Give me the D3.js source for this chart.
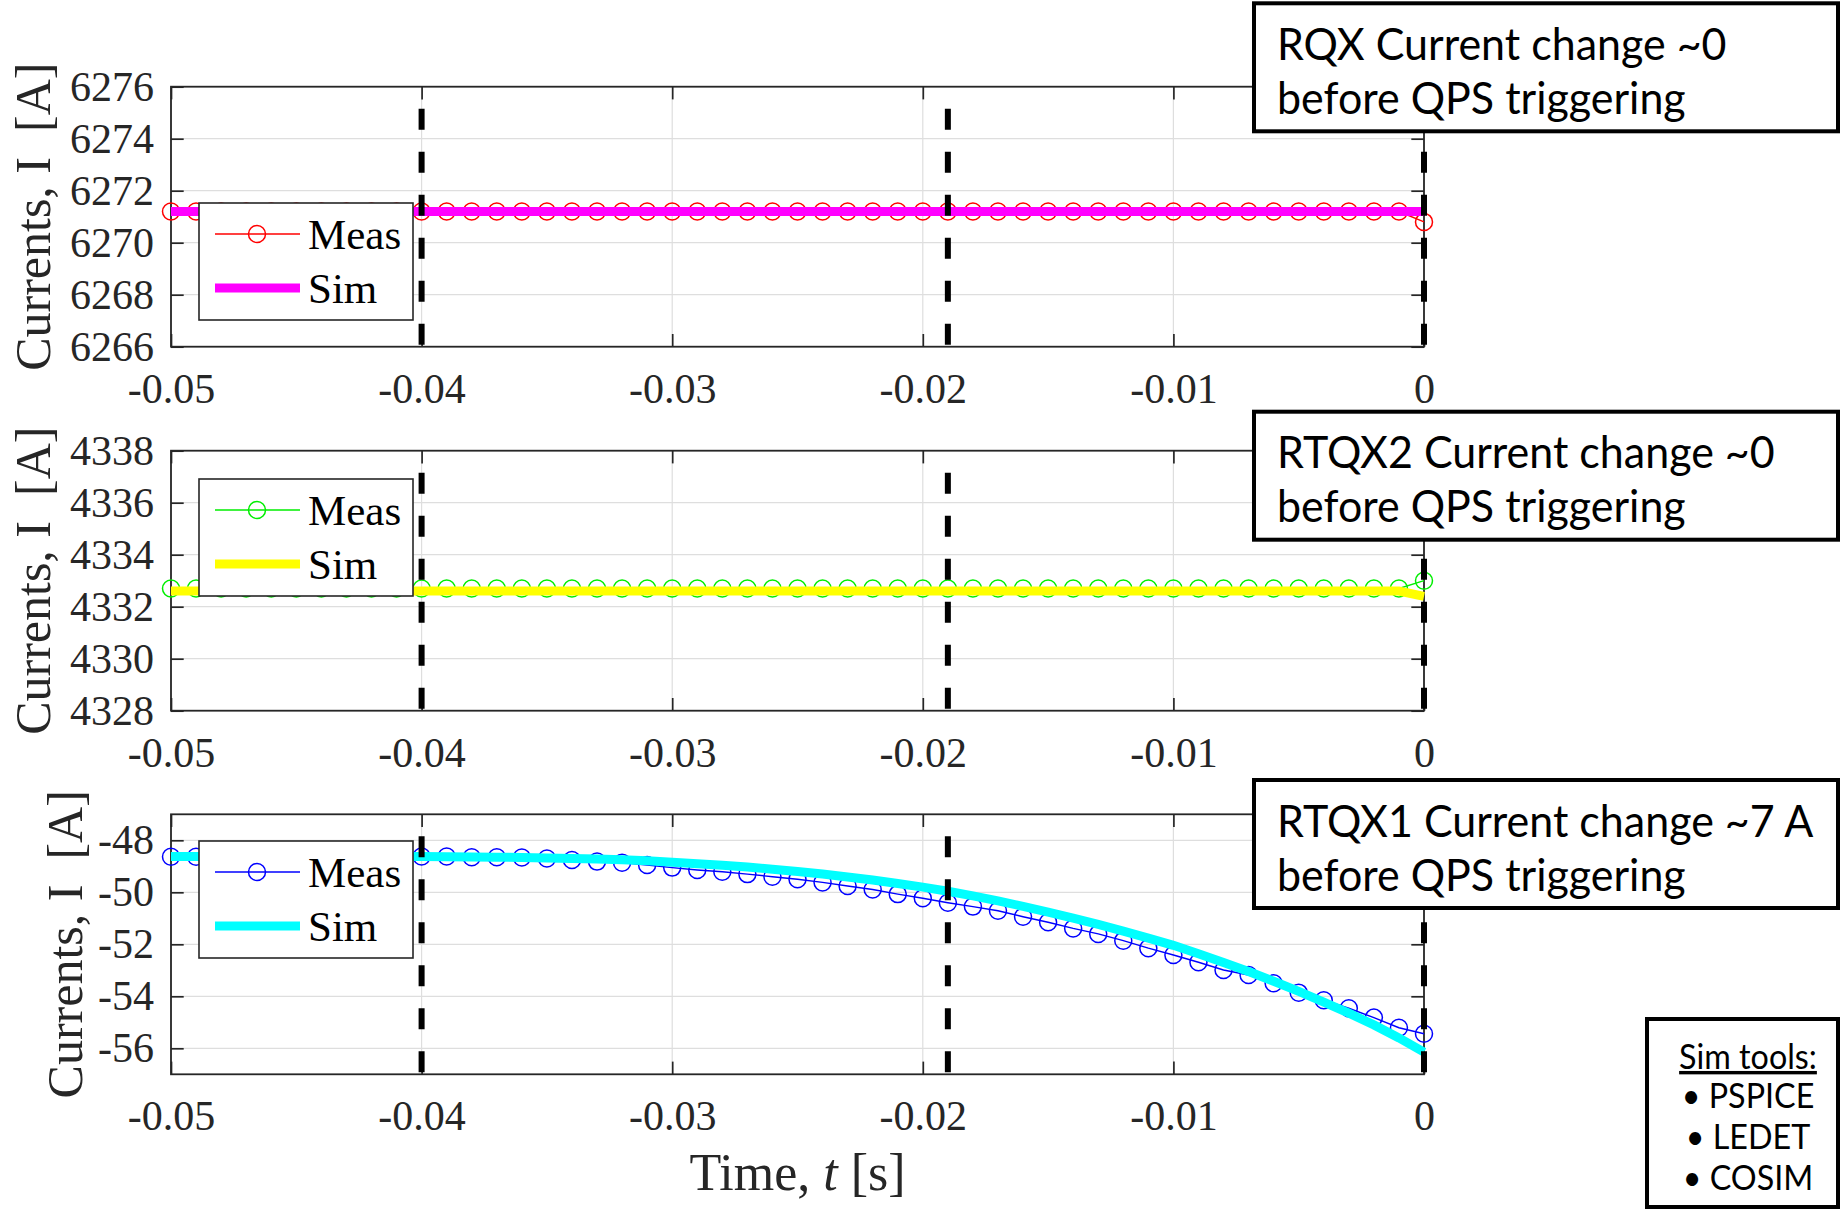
<!DOCTYPE html>
<html>
<head>
<meta charset="utf-8">
<script src="https://cdn.jsdelivr.net/npm/d3@7"></script>
<style>
body{margin:0;background:#fff;}
svg{display:block;}
</style>
</head>
<body>
<svg></svg>
<script>
const w = 1841;
const h = 1209;

// time axis, seconds (1 ms sampling)
const times = [-0.050,-0.049,-0.048,-0.047,-0.046,-0.045,-0.044,-0.043,-0.042,-0.041,
  -0.040,-0.039,-0.038,-0.037,-0.036,-0.035,-0.034,-0.033,-0.032,-0.031,
  -0.030,-0.029,-0.028,-0.027,-0.026,-0.025,-0.024,-0.023,-0.022,-0.021,
  -0.020,-0.019,-0.018,-0.017,-0.016,-0.015,-0.014,-0.013,-0.012,-0.011,
  -0.010,-0.009,-0.008,-0.007,-0.006,-0.005,-0.004,-0.003,-0.002,-0.001,0];

const rqxMeas = [6271.2,6271.2,6271.2,6271.2,6271.2,6271.2,6271.2,6271.2,6271.2,6271.2,
  6271.2,6271.2,6271.2,6271.2,6271.2,6271.2,6271.2,6271.2,6271.2,6271.2,
  6271.2,6271.2,6271.2,6271.2,6271.2,6271.2,6271.2,6271.2,6271.2,6271.2,
  6271.2,6271.2,6271.2,6271.2,6271.2,6271.2,6271.2,6271.2,6271.2,6271.2,
  6271.2,6271.2,6271.2,6271.2,6271.2,6271.2,6271.2,6271.2,6271.2,6271.2,6270.8];
const rqxSim = [6271.2,6271.2,6271.2,6271.2,6271.2,6271.2,6271.2,6271.2,6271.2,6271.2,
  6271.2,6271.2,6271.2,6271.2,6271.2,6271.2,6271.2,6271.2,6271.2,6271.2,
  6271.2,6271.2,6271.2,6271.2,6271.2,6271.2,6271.2,6271.2,6271.2,6271.2,
  6271.2,6271.2,6271.2,6271.2,6271.2,6271.2,6271.2,6271.2,6271.2,6271.2,
  6271.2,6271.2,6271.2,6271.2,6271.2,6271.2,6271.2,6271.2,6271.2,6271.2,6271.2];

const rtqx2Meas = [4332.7,4332.7,4332.7,4332.7,4332.7,4332.7,4332.7,4332.7,4332.7,4332.7,
  4332.7,4332.7,4332.7,4332.7,4332.7,4332.7,4332.7,4332.7,4332.7,4332.7,
  4332.7,4332.7,4332.7,4332.7,4332.7,4332.7,4332.7,4332.7,4332.7,4332.7,
  4332.7,4332.7,4332.7,4332.7,4332.7,4332.7,4332.7,4332.7,4332.7,4332.7,
  4332.7,4332.7,4332.7,4332.7,4332.7,4332.7,4332.7,4332.7,4332.7,4332.7,4333.0];
const rtqx2Sim = [4332.6,4332.6,4332.6,4332.6,4332.6,4332.6,4332.6,4332.6,4332.6,4332.6,
  4332.6,4332.6,4332.6,4332.6,4332.6,4332.6,4332.6,4332.6,4332.6,4332.6,
  4332.6,4332.6,4332.6,4332.6,4332.6,4332.6,4332.6,4332.6,4332.6,4332.6,
  4332.6,4332.6,4332.6,4332.6,4332.6,4332.6,4332.6,4332.6,4332.6,4332.6,
  4332.6,4332.6,4332.6,4332.6,4332.6,4332.6,4332.6,4332.6,4332.6,4332.6,4332.4];

const rtqx1Meas = [-48.63,-48.63,-48.63,-48.63,-48.63,-48.63,-48.63,-48.63,-48.63,-48.62,
  -48.62,-48.62,-48.65,-48.65,-48.66,-48.70,-48.76,-48.82,-48.86,-48.95,
  -49.05,-49.14,-49.21,-49.30,-49.40,-49.50,-49.62,-49.76,-49.89,-50.07,
  -50.23,-50.40,-50.55,-50.71,-50.94,-51.15,-51.39,-51.60,-51.86,-52.15,
  -52.41,-52.69,-52.99,-53.18,-53.50,-53.86,-54.15,-54.46,-54.82,-55.21,-55.44];
const rtqx1Sim = [-48.62,-48.62,-48.62,-48.62,-48.62,-48.62,-48.62,-48.62,-48.62,-48.62,
  -48.62,-48.63,-48.64,-48.65,-48.66,-48.68,-48.70,-48.72,-48.75,-48.79,
  -48.84,-48.90,-48.96,-49.03,-49.11,-49.20,-49.30,-49.41,-49.53,-49.66,
  -49.80,-49.96,-50.14,-50.33,-50.54,-50.76,-50.99,-51.23,-51.49,-51.76,
  -52.04,-52.36,-52.70,-53.05,-53.42,-53.81,-54.22,-54.65,-55.10,-55.60,-56.15];

const xTicks = [-0.05,-0.04,-0.03,-0.02,-0.01,0];
const rqxTicks = [6266,6268,6270,6272,6274,6276];
const rtqx2Ticks = [4328,4330,4332,4334,4336,4338];
const rtqx1Ticks = [-56,-54,-52,-50,-48];
const markerTimes = [-0.04,-0.019,0];

const notes = [
  ["RQX Current change ~0","before QPS triggering"],
  ["RTQX2 Current change ~0","before QPS triggering"],
  ["RTQX1 Current change ~7 A","before QPS triggering"]
];
const simTools = ["PSPICE","LEDET","COSIM"];

const serif = "'Liberation Serif','Times New Roman',serif";
const sans = "Lato,'Open Sans',sans-serif";
const axCol = "#262626";
const panelH = 260;
const tickLen = 12.7;

const svg = d3.select("svg").attr("width",w).attr("height",h);
const x = d3.scaleLinear().domain([-0.05,0]).range([171,1424]);
const [x0,x1] = x.range();

const panels = [
  {top:86.7, dom:[6266,6276], ticks:rqxTicks, meas:rqxMeas, sim:rqxSim, mc:"#ff0000", sc:"#ff00ff", legY:203, titleX:50},
  {top:450.7, dom:[4328,4338], ticks:rtqx2Ticks, meas:rtqx2Meas, sim:rtqx2Sim, mc:"#00ee00", sc:"#ffff00", legY:479, titleX:50},
  {top:814.3, dom:[-57,-47], ticks:rtqx1Ticks, meas:rtqx1Meas, sim:rtqx1Sim, mc:"#0000ff", sc:"#00ffff", legY:841, titleX:82}
];

const fmtX = d => d === 0 ? "0" : d.toFixed(2);

panels.forEach(p=>{
  const y = d3.scaleLinear().domain(p.dom).range([p.top+panelH,p.top]);
  const bottom = p.top+panelH;
  const g = svg.append("g");

  // grid
  g.selectAll(".hg").data(p.ticks).enter().append("line")
    .attr("x1",x0).attr("x2",x1).attr("y1",d=>y(d)).attr("y2",d=>y(d))
    .attr("stroke","#dedede").attr("stroke-width",1.2);
  g.selectAll(".vg").data(xTicks).enter().append("line")
    .attr("x1",d=>x(d)).attr("x2",d=>x(d)).attr("y1",p.top).attr("y2",bottom)
    .attr("stroke","#dedede").attr("stroke-width",1.2);

  // axes (ticks inward, mirrored)
  const left = d3.axisLeft(y).tickValues(p.ticks).tickSizeInner(-tickLen).tickSizeOuter(0).tickPadding(17).tickFormat(d=>String(d));
  const right = d3.axisRight(y).tickValues(p.ticks).tickSizeInner(-tickLen).tickSizeOuter(0).tickFormat("");
  const bot = d3.axisBottom(x).tickValues(xTicks).tickSizeInner(-tickLen).tickSizeOuter(0).tickPadding(26).tickFormat(fmtX);
  const topAx = d3.axisTop(x).tickValues(xTicks).tickSizeInner(-tickLen).tickSizeOuter(0).tickFormat("");
  [[left,`translate(${x0},0)`],[right,`translate(${x1},0)`],[bot,`translate(0,${bottom})`],[topAx,`translate(0,${p.top})`]]
    .forEach(([ax,tr])=>{
      const a = g.append("g").attr("transform",tr).call(ax);
      a.select(".domain").remove();
      a.selectAll("line").attr("stroke",axCol).attr("stroke-width",1.7);
      a.selectAll("text").attr("font-family",serif).attr("font-size",42).attr("fill",axCol);
    });

  g.append("rect").attr("x",x0).attr("y",p.top).attr("width",x1-x0).attr("height",panelH)
    .attr("fill","none").attr("stroke",axCol).attr("stroke-width",1.8);

  // measured
  const pts = times.map((t,i)=>({t:t,v:p.meas[i]}));
  const line = d3.line().x(d=>x(d.t)).y(d=>y(d.v));
  g.append("path").datum(pts).attr("d",line).attr("fill","none").attr("stroke",p.mc).attr("stroke-width",1.4);
  g.selectAll(".mk").data(pts).enter().append("circle")
    .attr("cx",d=>x(d.t)).attr("cy",d=>y(d.v)).attr("r",8.5)
    .attr("fill","none").attr("stroke",p.mc).attr("stroke-width",1.5);

  // simulated
  const simPts = times.map((t,i)=>({t:t,v:p.sim[i]}));
  g.append("path").datum(simPts).attr("d",line).attr("fill","none").attr("stroke",p.sc).attr("stroke-width",9);

  // dashed time markers
  g.selectAll(".dash").data(markerTimes).enter().append("line")
    .attr("x1",d=>x(d)).attr("x2",d=>x(d)).attr("y1",p.top).attr("y2",bottom)
    .attr("stroke","#000").attr("stroke-width",6)
    .attr("stroke-dasharray","21,22").attr("stroke-dashoffset",21);

  // legend
  const lg = g.append("g").attr("transform",`translate(199,${p.legY})`);
  lg.append("rect").attr("width",214).attr("height",117).attr("fill","#fff").attr("stroke",axCol).attr("stroke-width",1.6);
  lg.append("line").attr("x1",16).attr("x2",101).attr("y1",31).attr("y2",31).attr("stroke",p.mc).attr("stroke-width",1.4);
  lg.append("circle").attr("cx",58).attr("cy",31).attr("r",8.5).attr("fill","none").attr("stroke",p.mc).attr("stroke-width",1.5);
  lg.append("line").attr("x1",16).attr("x2",101).attr("y1",85).attr("y2",85).attr("stroke",p.sc).attr("stroke-width",9);
  lg.selectAll(".lt").data(["Meas","Sim"]).enter().append("text")
    .attr("x",109).attr("y",(d,i)=>[31,85][i]+15)
    .attr("font-family",serif).attr("font-size",43).attr("fill","#000").text(d=>d);

  // y title
  g.append("text").attr("transform",`translate(${p.titleX},${p.top+panelH/2}) rotate(-90)`)
    .attr("text-anchor","middle").attr("font-family",serif).attr("font-size",50).attr("fill",axCol)
    .text("Currents, I\u00a0 [A]");
});

// x title
const xt = svg.append("text").attr("x",(x0+x1)/2).attr("y",1190).attr("text-anchor","middle")
  .attr("font-family",serif).attr("font-size",52).attr("fill",axCol);
xt.append("tspan").text("Time, ");
xt.append("tspan").attr("font-style","italic").text("t");
xt.append("tspan").text(" [s]");

// annotation boxes (narrow sans text, squeezed horizontally)
const noteTops = [3.3,411.7,780];
notes.forEach((lines,i)=>{
  const ng = svg.append("g").attr("transform",`translate(1254,${noteTops[i]})`);
  ng.append("rect").attr("width",584).attr("height",128).attr("fill","#fff").attr("stroke","#000").attr("stroke-width",4);
  ng.selectAll("text").data(lines).enter().append("text")
    .attr("transform",(d,j)=>`translate(23,${41+j*54}) scale(0.955,1)`).attr("dy","0.35em")
    .attr("font-family",sans).attr("font-size",45).attr("fill","#000").text(d=>d);
});

// sim tools box
const sg = svg.append("g").attr("transform","translate(1647,1019)");
sg.append("rect").attr("width",191).attr("height",188).attr("fill","#fff").attr("stroke","#000").attr("stroke-width",4);
sg.append("text").attr("transform","translate(101,38) scale(0.95,1)").attr("dy","0.35em").attr("text-anchor","middle")
  .attr("font-family",sans).attr("font-size",34).attr("text-decoration","underline").text("Sim tools:");
sg.selectAll(".st").data(simTools).enter().append("text")
  .attr("transform",(d,i)=>`translate(101,${77+i*41}) scale(0.95,1)`).attr("dy","0.35em").attr("text-anchor","middle")
  .attr("font-family",sans).attr("font-size",34).text(d=>"\u2022 " + d);
</script>
</body>
</html>
